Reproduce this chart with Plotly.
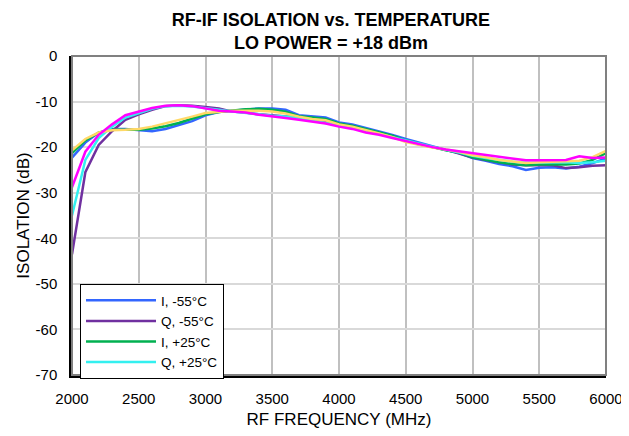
import plotly.graph_objects as go

freq = list(range(2000, 6001, 100))

i_m55 = [-22.3, -19.0, -16.8, -16.0, -16.0, -16.3, -16.5, -16.0, -15.2, -14.3, -13.0, -12.3, -12.0, -11.8, -11.5, -11.5, -11.8, -13.0, -13.3, -13.5, -14.6, -15.0, -15.8, -16.5, -17.3, -18.2, -19.0, -19.9, -20.6, -21.3, -22.4, -23.0, -23.7, -24.2, -25.0, -24.5, -24.4, -24.7, -24.3, -23.5, -22.5]
q_m55 = [-43.5, -25.5, -19.5, -16.5, -14.0, -12.8, -11.8, -11.0, -10.8, -10.9, -11.2, -11.5, -12.2, -12.4, -12.8, -13.0, -13.3, -13.5, -14.0, -14.5, -15.0, -15.5, -16.3, -17.0, -17.8, -18.6, -19.4, -20.0, -20.6, -21.4, -22.3, -22.8, -23.3, -23.8, -24.0, -23.9, -24.0, -24.6, -24.4, -24.1, -24.0]
i_p25 = [-21.3, -18.5, -16.8, -16.2, -16.2, -16.2, -15.9, -15.4, -14.7, -13.8, -12.8, -12.3, -12.0, -11.7, -11.6, -11.8, -12.2, -13.2, -13.5, -13.8, -14.8, -15.3, -16.0, -16.7, -17.5, -18.5, -19.3, -20.0, -20.7, -21.2, -22.2, -22.8, -23.3, -23.7, -24.0, -23.8, -23.8, -23.8, -23.6, -22.8, -21.3]
q_p25 = [-35.0, -22.8, -18.0, -15.5, -13.5, -12.5, -11.6, -11.0, -10.9, -11.1, -11.4, -11.8, -12.2, -12.5, -12.9, -13.1, -13.3, -13.6, -14.2, -14.7, -15.2, -15.7, -16.4, -17.1, -17.9, -18.6, -19.3, -20.0, -20.6, -21.2, -21.9, -22.4, -22.8, -23.2, -23.4, -23.3, -23.3, -23.3, -23.5, -23.3, -23.0]
i_p85 = [-20.7, -18.2, -16.8, -16.3, -16.2, -16.0, -15.5, -14.8, -14.0, -13.3, -12.5, -12.2, -12.0, -12.0, -12.0, -12.2, -12.6, -13.3, -13.8, -14.1, -15.0, -15.5, -16.2, -17.0, -17.8, -18.9, -19.5, -20.1, -20.5, -21.0, -21.8, -22.2, -22.8, -23.2, -23.5, -23.3, -23.2, -23.2, -23.0, -22.2, -20.8]
q_p85 = [-28.8, -21.0, -17.3, -15.0, -13.0, -12.2, -11.4, -10.9, -10.8, -11.0, -11.5, -12.0, -12.2, -12.4, -12.9, -13.2, -13.6, -14.0, -14.4, -14.8, -15.5, -16.0, -16.8, -17.3, -18.0, -18.7, -19.4, -20.0, -20.5, -20.9, -21.3, -21.7, -22.1, -22.5, -22.9, -22.9, -22.9, -22.8, -22.0, -22.4, -22.3]

series = [
    ("I, -55°C", i_m55, "#3366FF", True),
    ("Q, -55°C", q_m55, "#7030A0", True),
    ("I, +25°C", i_p25, "#00B050", True),
    ("Q, +25°C", q_p25, "#33F0F0", True),
    ("I, +85°C", i_p85, "#FFD966", False),
    ("Q, +85°C", q_p85, "#FF00FF", False),
]

x_ticks = [2000, 2500, 3000, 3500, 4000, 4500, 5000, 5500, 6000]
y_ticks = [0, -10, -20, -30, -40, -50, -60, -70]

fig = go.Figure()
for name, vals, color, show in series:
    fig.add_trace(go.Scatter(x=freq, y=vals, mode="lines", name=name,
                             line=dict(color=color, width=2.5), showlegend=show))

font = "Liberation Sans, Arial, sans-serif"
fig.update_layout(
    width=621, height=428,
    margin=dict(l=64, r=23, t=48, b=61, autoexpand=False),
    paper_bgcolor="white", plot_bgcolor="white",
    font=dict(family=font, color="black", size=15),
    title=dict(text="<b>RF-IF ISOLATION vs. TEMPERATURE<br>LO POWER = +18 dBm</b>",
               x=0.52, xanchor="center", y=0.958, yanchor="top",
               font=dict(size=18, family=font)),
    showlegend=True,
    legend=dict(x=0.015, y=0.285, xanchor="left", yanchor="top",
                bgcolor="white", bordercolor="black", borderwidth=1,
                font=dict(size=13.5, family=font), tracegroupgap=0,
                itemwidth=70),
    shapes=[dict(type="rect", xref="paper", yref="paper", x0=0, x1=1, y0=0, y1=1,
                 line=dict(color="#808080", width=2), layer="above")],
)
fig.update_xaxes(range=[2000, 6000], tickvals=x_ticks, ticktext=[str(v) for v in x_ticks],
                 showgrid=True, gridcolor="#C0C0C0", gridwidth=2,
                 showline=True, linecolor="black", linewidth=2.5,
                 ticks="", zeroline=False, automargin=False, ticklabelstandoff=8,
                 tickfont=dict(size=15),
                 title=dict(text="RF FREQUENCY (MHz)", font=dict(size=17), standoff=8))
fig.update_yaxes(range=[-70, 0], tickvals=y_ticks, ticktext=[str(v) for v in y_ticks],
                 showgrid=True, gridcolor="#D9D9D9", gridwidth=1.5,
                 showline=True, linecolor="black", linewidth=2.5,
                 ticks="", zeroline=False, automargin=False, ticklabelstandoff=9,
                 tickfont=dict(size=15),
                 title=dict(text="ISOLATION (dB)", font=dict(size=17), standoff=2))

fig.write_html("out.html")
